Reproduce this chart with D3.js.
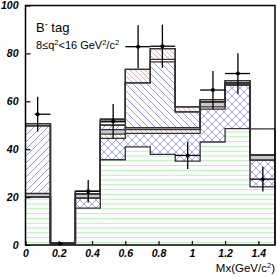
<!DOCTYPE html>
<html>
<head>
<meta charset="utf-8">
<script src="https://cdn.jsdelivr.net/npm/d3@7"></script>
<style>
    body { margin: 0; background: #fff; }
    text { font-family: "Liberation Sans", Arial, Helvetica, sans-serif; }
    .tick text { font-weight: bold; font-style: italic; font-size: 10.5px; fill: #000; }
    .tick line { stroke: #000; stroke-width: 1.2px; }
</style>
</head>
<body>
<svg id="chart" width="277" height="277"></svg>
<script>
// bin edges in Mx (GeV/c^2)
var binEdges = [0, 0.15, 0.3, 0.45, 0.6, 0.75, 0.9, 1.05, 1.2, 1.35, 1.5];

// stacked components, events per bin (bottom to top)
var bkgValues   = [20.0, 0.6, 15.4, 35.6, 41.0, 37.8, 35.0, 43.0, 48.6, 24.3];
var xuValues    = [0, 0, 4.2, 8.9, 5.6, 8.8, 11.6, 13.7, 18.2, 11.1];
var etaValues   = [0, 0, 0, 1.8, 1.6, 1.6, 1.6, 1.0, 0, 0];
var miscValues  = [1.5, 0.4, 1.8, 1.9, 0.8, 0.8, 0.8, 2.1, 0.9, 2.1];
var piValues    = [28.2, 0, 0, 1.8, 0, 0, 0, 0, 0, 0];
var rhoValues   = [0, 0, 0, 0, 18.7, 27.5, 6.6, 0, 0, 0];
var thinValues  = [1.0, 0, 1.0, 1.4, 0, 1.0, 0, 0, 0, 0];
var omegaValues = [0, 0, 0, 1.1, 5.6, 4.5, 2.1, 0.9, 0.9, 0];
var otherValues = [0, 0, 0, 0, 0, 0, 0, 0, 0, 11.0];

// data points
var dataX    = [0.073, 0.207, 0.377, 0.527, 0.677, 0.823, 0.975, 1.127, 1.277, 1.427];
var dataY    = [54.6, 0.5, 22.4, 51.7, 82.8, 83.0, 37.4, 64.7, 71.6, 27.5];
var dataErr  = [7.3, 0.6, 4.7, 7.2, 9.0, 9.0, 5.7, 8.0, 8.5, 5.2];
var dataXlo  = [0.055, 0.19, 0.3, 0.45, 0.6, 0.75, 0.9, 1.05, 1.2, 1.35];
var dataXhi  = [0.15, 0.225, 0.45, 0.6, 0.75, 0.9, 1.05, 1.2, 1.35, 1.5];

var xTicks = [0, 0.2, 0.4, 0.6, 0.8, 1, 1.2, 1.4];
var yTicks = [0, 20, 40, 60, 80, 100];

var svg = d3.select("#chart");
var plotLeft = 25.5, plotRight = 275, plotTop = 5.5, plotBottom = 245;

var x = d3.scaleLinear().domain([0, 1.5]).range([plotLeft, plotRight]);
var y = d3.scaleLinear().domain([0, 100]).range([plotBottom, plotTop]);

// hatch patterns
var defs = svg.append("defs");

function hatch(id, size, color, paths, width) {
    var p = defs.append("pattern")
        .attr("id", id)
        .attr("patternUnits", "userSpaceOnUse")
        .attr("width", size)
        .attr("height", size);
    p.append("rect").attr("width", size).attr("height", size).attr("fill", "#fff");
    paths.forEach(function(d) {
        p.append("path").attr("d", d)
            .attr("stroke", color)
            .attr("stroke-width", width)
            .attr("fill", "none");
    });
}
hatch("hGreen", 4.8, "#b4efb4", ["M0,2.4 H4.8"], 1);
hatch("cross", 8, "#9a9af5", ["M0,0 L8,8", "M8,0 L0,8", "M-1,7 L1,9", "M7,-1 L9,1", "M-1,1 L1,-1", "M7,9 L9,7"], 0.9);
hatch("fwdBlue", 7, "#9090f5", ["M0,7 L7,0", "M-1,1 L1,-1", "M6,8 L8,6"], 0.9);
hatch("backBlue", 7, "#9090f5", ["M0,0 L7,7", "M-1,6 L1,8", "M6,-1 L8,1"], 0.9);
hatch("backRed", 5, "#f5a0a0", ["M0,0 L5,5", "M-1,4 L1,6", "M4,-1 L6,1"], 0.9);

var layers = [
    {values: bkgValues,   fill: "url(#hGreen)"},
    {values: xuValues,    fill: "url(#cross)"},
    {values: etaValues,   fill: "url(#backRed)"},
    {values: miscValues,  fill: "#c8c8c8"},
    {values: piValues,    fill: "url(#fwdBlue)"},
    {values: rhoValues,   fill: "url(#backBlue)"},
    {values: thinValues,  fill: "#fff"},
    {values: omegaValues, fill: "url(#backRed)"},
    {values: otherValues, fill: "#fff"}
];

// cumulate the stack
var nBins = binEdges.length - 1;
var base = d3.range(nBins).map(function() { return 0; });
layers.forEach(function(l) {
    l.lo = base.slice();
    l.hi = base.map(function(b, i) { return b + l.values[i]; });
    base = l.hi;
});

function stepData(l) {
    return binEdges.map(function(e, i) {
        var k = Math.min(i, nBins - 1);
        return {x: e, lo: l.lo[k], hi: l.hi[k]};
    });
}

var area = d3.area()
    .curve(d3.curveStepAfter)
    .x(function(d) { return x(d.x); })
    .y0(function(d) { return y(d.lo); })
    .y1(function(d) { return y(d.hi); });

var topLine = d3.line()
    .curve(d3.curveStepAfter)
    .x(function(d) { return x(d.x); })
    .y(function(d) { return y(d.hi); });

var g = svg.append("g");

g.selectAll("path.fill")
    .data(layers)
    .enter().append("path")
    .attr("class", "fill")
    .attr("d", function(l) { return area(stepData(l)); })
    .attr("fill", function(l) { return l.fill; })
    .attr("stroke", "none");

g.selectAll("path.edge")
    .data(layers)
    .enter().append("path")
    .attr("class", "edge")
    .attr("d", function(l) { return topLine(stepData(l)); })
    .attr("fill", "none")
    .attr("stroke", "#333")
    .attr("stroke-width", 1.3);

// right side closing line of the stack
g.append("line")
    .attr("x1", x(1.5)).attr("x2", x(1.5))
    .attr("y1", y(0)).attr("y2", y(base[nBins - 1]))
    .attr("stroke", "#333").attr("stroke-width", 1.3);

// data points
var pts = d3.range(nBins).map(function(i) {
    return {x: dataX[i], y: dataY[i], e: dataErr[i], lo: dataXlo[i], hi: dataXhi[i]};
});
var pg = svg.append("g");
pg.selectAll("line.ey").data(pts).enter().append("line")
    .attr("class", "ey")
    .attr("x1", function(d) { return x(d.x); })
    .attr("x2", function(d) { return x(d.x); })
    .attr("y1", function(d) { return y(d.y - d.e); })
    .attr("y2", function(d) { return y(d.y + d.e); })
    .attr("stroke", "#000").attr("stroke-width", 1.3);
pg.selectAll("line.ex").data(pts).enter().append("line")
    .attr("class", "ex")
    .attr("x1", function(d) { return x(d.lo); })
    .attr("x2", function(d) { return x(d.hi); })
    .attr("y1", function(d) { return y(d.y); })
    .attr("y2", function(d) { return y(d.y); })
    .attr("stroke", "#000").attr("stroke-width", 1.3);
pg.selectAll("circle").data(pts).enter().append("circle")
    .attr("cx", function(d) { return x(d.x); })
    .attr("cy", function(d) { return y(d.y); })
    .attr("r", 2)
    .attr("fill", "#000");

// axes
var yAxis = d3.axisLeft(y).tickValues(yTicks).tickSizeInner(-5).tickSizeOuter(0).tickPadding(7);
var xAxis = d3.axisBottom(x).tickValues(xTicks).tickSizeInner(-4).tickSizeOuter(0).tickPadding(5)
    .tickFormat(d3.format("~g"));

svg.append("g").attr("transform", "translate(" + plotLeft + ",0)").call(yAxis)
    .call(function(a) { a.select(".domain").remove(); });
svg.append("g").attr("transform", "translate(0," + plotBottom + ")").call(xAxis)
    .call(function(a) { a.select(".domain").remove(); });

svg.append("rect")
    .attr("x", plotLeft).attr("y", plotTop)
    .attr("width", plotRight - plotLeft).attr("height", plotBottom - plotTop)
    .attr("fill", "none").attr("stroke", "#000").attr("stroke-width", 1.5);

// labels
function sup(sel, s) {
    sel.append("tspan").attr("dy", -4).attr("font-size", 7.5).text(s);
}
var t1 = svg.append("text").attr("x", 36).attr("y", 32).attr("font-size", 13);
t1.append("tspan").text("B");
t1.append("tspan").attr("dy", -5).attr("font-size", 9).text("-");
t1.append("tspan").attr("dy", 5).text(" tag");

var t2 = svg.append("text").attr("x", 36).attr("y", 49).attr("font-size", 11);
t2.append("tspan").text("8\u2264q");
sup(t2, "2");
t2.append("tspan").attr("dy", 4).text("<16 GeV");
sup(t2, "2");
t2.append("tspan").attr("dy", 4).text("/c");
sup(t2, "2");

var t3 = svg.append("text").attr("x", 275).attr("y", 272).attr("font-size", 11.5)
    .attr("text-anchor", "end");
t3.append("tspan").text("Mx(GeV/c");
sup(t3, "2");
t3.append("tspan").attr("dy", 4).text(")");
</script>
</body>
</html>
